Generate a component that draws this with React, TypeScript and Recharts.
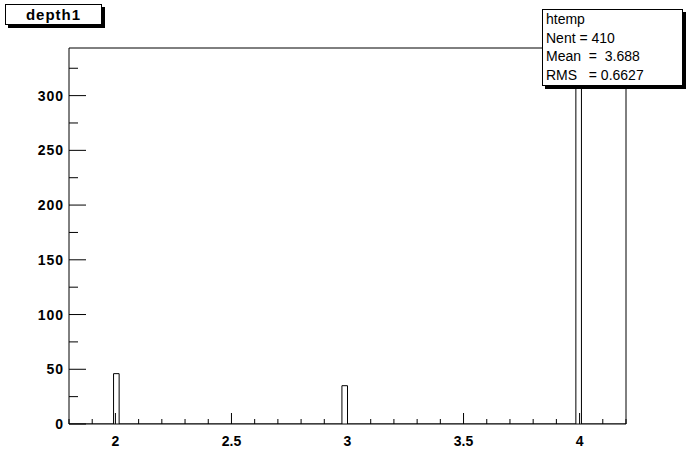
import React from 'react';
import { ComposedChart, Line, XAxis, YAxis, ReferenceArea } from 'recharts';

// histogram binning (ROOT htemp: 100 bins over [1.8, 4.2])
const xMin = 1.8;
const xMax = 4.2;
const nBins = 100;
const binWidth = (xMax - xMin) / nBins;

// only the non-empty bins
const binLowEdges = [1.992, 2.976, 3.984];
const binCounts = [46, 35, 329];

const yMax = 343.5;
const xTicks = [1.8, 1.9, 2, 2.1, 2.2, 2.3, 2.4, 2.5, 2.6, 2.7, 2.8, 2.9, 3, 3.1, 3.2, 3.3, 3.4, 3.5, 3.6, 3.7, 3.8, 3.9, 4, 4.1, 4.2];
const xLabels = [2, 2.5, 3, 3.5, 4];
const yTicks = [0, 25, 50, 75, 100, 125, 150, 175, 200, 225, 250, 275, 300, 325];
const yLabels = [0, 50, 100, 150, 200, 250, 300];

const statsLines = ['htemp', 'Nent = 410', 'Mean  =  3.688', 'RMS   = 0.6627'];

// outline of the histogram as a step path
const outline: { x: number; y: number }[] = [{ x: xMin, y: 0 }];
binLowEdges.forEach((lo, i) => {
    const hi = lo + binWidth;
    outline.push({ x: lo, y: 0 }, { x: lo, y: binCounts[i] }, { x: hi, y: binCounts[i] }, { x: hi, y: 0 });
});
outline.push({ x: xMax, y: 0 });

const font = '"Liberation Sans", Arial, sans-serif';

const XTick = (props: any) => {
    const { x, y, payload } = props;
    const major = xLabels.some(v => Math.abs(v - payload.value) < 1e-6);
    return (
        <g>
            <line x1={x} y1={y} x2={x} y2={y - (major ? 11 : 5)} stroke="#000" />
            {major && (
                <text x={x} y={y + 22} textAnchor="middle" fontFamily={font} fontWeight="bold" fontSize={14} fill="#000">
                    {payload.value}
                </text>
            )}
        </g>
    );
};

const YTick = (props: any) => {
    const { x, y, payload } = props;
    const major = yLabels.includes(payload.value);
    return (
        <g>
            <line x1={x} y1={y} x2={x + (major ? 17 : 9)} y2={y} stroke="#000" />
            {major && (
                <text x={x - 5} y={y + 5} textAnchor="end" fontFamily={font} fontWeight="bold" fontSize={14} letterSpacing={1} fill="#000">
                    {payload.value}
                </text>
            )}
        </g>
    );
};

export default function App() {
    return (
        <div style={{ position: 'absolute', left: 0, top: 0, width: 696, height: 472, background: '#fff' }}>
            <ComposedChart width={696} height={472} data={outline} margin={{ top: 48, right: 70, bottom: 0, left: 0 }}>
                <XAxis
                    dataKey="x"
                    type="number"
                    domain={[xMin, xMax]}
                    ticks={xTicks}
                    interval={0}
                    height={48}
                    axisLine={false}
                    tickLine={false}
                    tickSize={0}
                    tickMargin={0}
                    tick={XTick}
                    allowDataOverflow
                />
                <YAxis
                    type="number"
                    domain={[0, yMax]}
                    ticks={yTicks}
                    interval={0}
                    width={69}
                    axisLine={false}
                    tickLine={false}
                    tickSize={0}
                    tickMargin={0}
                    tick={YTick}
                    allowDataOverflow
                />
                <ReferenceArea x1={xMin} x2={xMax} y1={0} y2={yMax} fill="none" stroke="#000" strokeWidth={1} fillOpacity={0} />
                <Line
                    type="linear"
                    dataKey="y"
                    stroke="#000"
                    strokeWidth={1}
                    dot={false}
                    activeDot={false}
                    isAnimationActive={false}
                />
            </ComposedChart>

            {/* title box */}
            <div style={{
                position: 'absolute', left: 5, top: 4, width: 95, height: 19,
                border: '1px solid #000', boxShadow: '3px 3px 0 #000', background: '#fff',
                fontFamily: font, fontWeight: 'bold', fontSize: 15, letterSpacing: 1,
                textAlign: 'center', lineHeight: '19px'
            }}>
                depth1
            </div>

            {/* stats box */}
            <div style={{
                position: 'absolute', left: 542, top: 9, width: 141, height: 77,
                border: '1px solid #000', boxShadow: '3px 3px 0 #000', background: '#fff',
                fontFamily: font, fontSize: 14, paddingLeft: 3,
                boxSizing: 'border-box', whiteSpace: 'pre', overflow: 'hidden'
            }}>
                {statsLines.map((s, i) => (
                    <div key={i} style={{ height: 18.7, lineHeight: '18.7px' }}>{s}</div>
                ))}
            </div>
        </div>
    );
}
